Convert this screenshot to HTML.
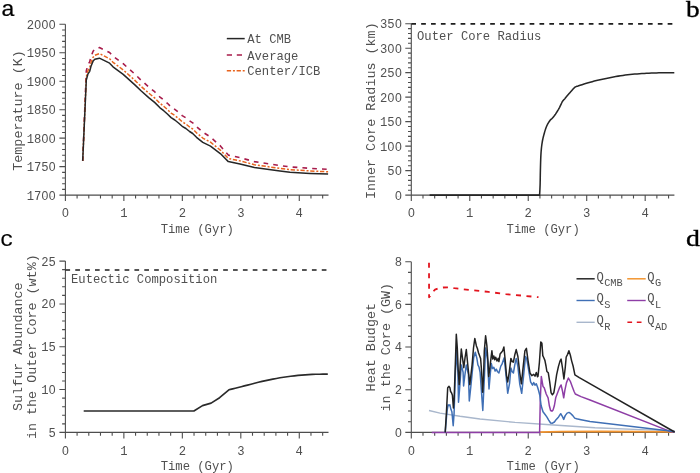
<!DOCTYPE html>
<html><head><meta charset="utf-8"><title>Core evolution</title>
<style>
html,body{margin:0;padding:0;background:#fff;}
svg{display:block;will-change:transform;}
text{font-family:"Liberation Mono", monospace;fill:#505050;}
</style></head><body>
<svg width="700" height="473" viewBox="0 0 700 473">
<rect width="700" height="473" fill="#fff"/>
<path d="M65.4 24.3V201.1M59.4 195.1H328.51M59.4 195.1H65.4M62.1 189.41H65.4M62.1 183.71H65.4M62.1 178.02H65.4M62.1 172.33H65.4M59.4 166.63H65.4M62.1 160.94H65.4M62.1 155.25H65.4M62.1 149.55H65.4M62.1 143.86H65.4M59.4 138.17H65.4M62.1 132.47H65.4M62.1 126.78H65.4M62.1 121.09H65.4M62.1 115.39H65.4M59.4 109.7H65.4M62.1 104.01H65.4M62.1 98.31H65.4M62.1 92.62H65.4M62.1 86.93H65.4M59.4 81.23H65.4M62.1 75.54H65.4M62.1 69.85H65.4M62.1 64.15H65.4M62.1 58.46H65.4M59.4 52.77H65.4M62.1 47.07H65.4M62.1 41.38H65.4M62.1 35.69H65.4M62.1 29.99H65.4M59.4 24.3H65.4M65.4 195.1V201.1M77.09 195.1V198.4M88.79 195.1V198.4M100.48 195.1V198.4M112.18 195.1V198.4M123.87 195.1V201.1M135.56 195.1V198.4M147.26 195.1V198.4M158.95 195.1V198.4M170.65 195.1V198.4M182.34 195.1V201.1M194.03 195.1V198.4M205.73 195.1V198.4M217.42 195.1V198.4M229.12 195.1V198.4M240.81 195.1V201.1M252.5 195.1V198.4M264.2 195.1V198.4M275.89 195.1V198.4M287.59 195.1V198.4M299.28 195.1V201.1M310.97 195.1V198.4M322.67 195.1V198.4" stroke="#4d4d4d" stroke-width="1.1" fill="none"/>
<text x="55.9" y="199.5" text-anchor="end" font-size="12.2">1700</text>
<text x="55.9" y="171.03" text-anchor="end" font-size="12.2">1750</text>
<text x="55.9" y="142.57" text-anchor="end" font-size="12.2">1800</text>
<text x="55.9" y="114.1" text-anchor="end" font-size="12.2">1850</text>
<text x="55.9" y="85.63" text-anchor="end" font-size="12.2">1900</text>
<text x="55.9" y="57.17" text-anchor="end" font-size="12.2">1950</text>
<text x="55.9" y="28.7" text-anchor="end" font-size="12.2">2000</text>
<text x="65.4" y="217.3" text-anchor="middle" font-size="12.2">0</text>
<text x="123.87" y="217.3" text-anchor="middle" font-size="12.2">1</text>
<text x="182.34" y="217.3" text-anchor="middle" font-size="12.2">2</text>
<text x="240.81" y="217.3" text-anchor="middle" font-size="12.2">3</text>
<text x="299.28" y="217.3" text-anchor="middle" font-size="12.2">4</text>
<text x="160.7" y="232.6" font-size="12.2">Time (Gyr)</text>
<text transform="translate(22.3 110.5) rotate(-90)" text-anchor="middle" font-size="13.4">Temperature (K)</text>
<path d="M82.7 160.9 L86.3 70.96 L88 64.56 L89.7 61.85 L91 56.59 L93.1 51.24 L94.8 49.23 L99.4 47.57 L104.5 50 L109.6 52.5 L113 56.1 L123.2 63.7 L134.6 73.9 L141 80.1 L148.7 86.9 L154.6 91.7 L160 97.1 L163.7 100 L167.4 103.3 L171.1 106.9 L174.8 109.3 L178.5 112.3 L182.2 115.6 L185.9 117.8 L189.6 120.8 L192.7 122.8 L196.5 126.6 L202.8 132.12 L210.5 137.06 L220.6 146.15 L228.3 155.1 L240 157.68 L254.4 161.61 L280 165.52 L290 166.89 L310 168.31 L328.1 169.3" stroke="#a81c4b" stroke-width="1.6" fill="none" stroke-linejoin="round" stroke-dasharray="4.7 5.1"/>
<path d="M82.7 160.9 L86.3 76.96 L88 70.56 L89.7 67.85 L91 62.59 L93.1 57.24 L94.8 55.23 L99.4 53.57 L104.5 56.2 L109.6 58.7 L113 62.3 L123.2 69.9 L134.6 80.1 L141 86.3 L148.7 93.1 L154.6 97.9 L160 103.3 L163.7 106.2 L167.4 109.5 L171.1 113.1 L174.8 115.5 L178.5 118.5 L182.2 121.8 L185.9 124 L189.6 127 L192.7 129 L196.5 132.8 L202.8 138.04 L210.5 142.21 L220.6 150.29 L228.3 158.47 L240 160.89 L254.4 164.71 L280 168.41 L290 169.69 L310 170.95 L328.1 171.8" stroke="#e8641e" stroke-width="1.5" fill="none" stroke-linejoin="round" stroke-dasharray="4.3 1.8 2 1.7"/>
<path d="M82.7 160.9 L86.3 80 L88 73.8 L89.7 71.3 L91 66.2 L93.1 61.1 L94.8 59.3 L99.4 58.2 L104.5 60.7 L109.6 63.2 L113 66.8 L123.2 74.4 L134.6 84.6 L141 90.8 L148.7 97.6 L154.6 102.4 L160 107.8 L163.7 110.7 L167.4 114 L171.1 117.6 L174.8 120 L178.5 123 L182.2 126.3 L185.9 128.5 L189.6 131.5 L192.7 133.5 L196.5 137.3 L202.8 142.4 L210.5 146.2 L220.6 153.8 L228.3 161.6 L240 163.9 L254.4 167.6 L280 171.1 L290 172.3 L310 173.4 L328.1 174.1" stroke="#262626" stroke-width="1.5" fill="none" stroke-linejoin="round" />
<path d="M226.8 38.6H244.7" stroke="#262626" stroke-width="1.5"/>
<path d="M226.8 55H244.7" stroke="#a81c4b" stroke-width="1.6" stroke-dasharray="5.2 4.8"/>
<path d="M226.8 70.8H244.7" stroke="#e8641e" stroke-width="1.5" stroke-dasharray="4.3 1.8 2 1.7"/>
<text x="247.2" y="43.1" font-size="12.2">At CMB</text>
<text x="247.2" y="59.5" font-size="12.2">Average</text>
<text x="247.2" y="75.3" font-size="12.2">Center/ICB</text>
<path d="M411.3 23.7V201.1M405.3 195.1H674.41M405.3 195.1H411.3M408 190.2H411.3M408 185.31H411.3M408 180.41H411.3M408 175.51H411.3M405.3 170.61H411.3M408 165.72H411.3M408 160.82H411.3M408 155.92H411.3M408 151.03H411.3M405.3 146.13H411.3M408 141.23H411.3M408 136.33H411.3M408 131.44H411.3M408 126.54H411.3M405.3 121.64H411.3M408 116.75H411.3M408 111.85H411.3M408 106.95H411.3M408 102.05H411.3M405.3 97.16H411.3M408 92.26H411.3M408 87.36H411.3M408 82.47H411.3M408 77.57H411.3M405.3 72.67H411.3M408 67.77H411.3M408 62.88H411.3M408 57.98H411.3M408 53.08H411.3M405.3 48.19H411.3M408 43.29H411.3M408 38.39H411.3M408 33.49H411.3M408 28.6H411.3M405.3 23.7H411.3M411.3 195.1V201.1M422.99 195.1V198.4M434.69 195.1V198.4M446.38 195.1V198.4M458.08 195.1V198.4M469.77 195.1V201.1M481.46 195.1V198.4M493.16 195.1V198.4M504.85 195.1V198.4M516.55 195.1V198.4M528.24 195.1V201.1M539.93 195.1V198.4M551.63 195.1V198.4M563.32 195.1V198.4M575.02 195.1V198.4M586.71 195.1V201.1M598.4 195.1V198.4M610.1 195.1V198.4M621.79 195.1V198.4M633.49 195.1V198.4M645.18 195.1V201.1M656.87 195.1V198.4M668.57 195.1V198.4" stroke="#4d4d4d" stroke-width="1.1" fill="none"/>
<text x="402" y="199.5" text-anchor="end" font-size="12.2">0</text>
<text x="402" y="175.01" text-anchor="end" font-size="12.2">50</text>
<text x="402" y="150.53" text-anchor="end" font-size="12.2">100</text>
<text x="402" y="126.04" text-anchor="end" font-size="12.2">150</text>
<text x="402" y="101.56" text-anchor="end" font-size="12.2">200</text>
<text x="402" y="77.07" text-anchor="end" font-size="12.2">250</text>
<text x="402" y="52.59" text-anchor="end" font-size="12.2">300</text>
<text x="402" y="28.1" text-anchor="end" font-size="12.2">350</text>
<text x="411.3" y="217.3" text-anchor="middle" font-size="12.2">0</text>
<text x="469.77" y="217.3" text-anchor="middle" font-size="12.2">1</text>
<text x="528.24" y="217.3" text-anchor="middle" font-size="12.2">2</text>
<text x="586.71" y="217.3" text-anchor="middle" font-size="12.2">3</text>
<text x="645.18" y="217.3" text-anchor="middle" font-size="12.2">4</text>
<text x="506.6" y="232.6" font-size="12.2">Time (Gyr)</text>
<text transform="translate(374.6 110.7) rotate(-90)" text-anchor="middle" font-size="13.4">Inner Core Radius (km)</text>
<path d="M411.3 23.9H674.41" stroke="#1e1e1e" stroke-width="1.6" stroke-dasharray="4.7 5.16"/>
<text x="417" y="40.4" font-size="12.2">Outer Core Radius</text>
<path d="M429.6 195.1 L539.6 195.1 L539.66 194.06 L539.74 192.66 L539.83 190.99 L539.93 189.1 L540.02 187.08 L540.1 185 L540.16 182.78 L540.21 180.36 L540.25 177.81 L540.29 175.18 L540.34 172.56 L540.4 170 L540.47 167.44 L540.54 164.81 L540.61 162.19 L540.7 159.63 L540.79 157.21 L540.9 155 L541.02 153.02 L541.15 151.22 L541.29 149.56 L541.44 148 L541.61 146.49 L541.8 145 L542 143.57 L542.2 142.26 L542.42 141 L542.67 139.74 L542.96 138.43 L543.3 137 L543.71 135.41 L544.17 133.68 L544.67 131.89 L545.21 130.13 L545.75 128.48 L546.3 127 L546.86 125.69 L547.46 124.49 L548.07 123.39 L548.67 122.4 L549.26 121.5 L549.8 120.7 L550.3 120.05 L550.76 119.56 L551.21 119.16 L551.64 118.81 L552.07 118.44 L552.5 118 L552.94 117.49 L553.38 116.96 L553.82 116.41 L554.25 115.85 L554.68 115.28 L555.1 114.7 L555.52 114.11 L555.93 113.5 L556.33 112.88 L556.73 112.25 L557.12 111.62 L557.5 111 L557.86 110.41 L558.19 109.85 L558.52 109.29 L558.85 108.7 L559.21 108.04 L559.6 107.3 L560.04 106.41 L560.52 105.39 L561.03 104.3 L561.53 103.23 L562.03 102.24 L562.5 101.4 L562.95 100.74 L563.38 100.2 L563.81 99.74 L564.22 99.33 L564.62 98.93 L565 98.5 L565.33 98.09 L565.61 97.73 L565.88 97.38 L566.17 97 L566.53 96.56 L567 96 L567.6 95.3 L568.32 94.47 L569.1 93.58 L569.9 92.67 L570.69 91.79 L571.4 91 L572.05 90.27 L572.68 89.55 L573.29 88.86 L573.87 88.23 L574.44 87.67 L575 87.2 L575.51 86.86 L575.96 86.63 L576.39 86.47 L576.85 86.34 L577.37 86.2 L578 86 L578.68 85.76 L579.39 85.53 L580.15 85.28 L581.03 85 L582.06 84.68 L583.3 84.3 L584.77 83.85 L586.42 83.34 L588.24 82.79 L590.18 82.22 L592.21 81.65 L594.3 81.1 L596.49 80.56 L598.82 80.01 L601.24 79.46 L603.71 78.91 L606.18 78.39 L608.6 77.9 L610.98 77.43 L613.37 76.98 L615.76 76.54 L618.14 76.13 L620.52 75.75 L622.9 75.4 L625.27 75.08 L627.64 74.8 L630 74.54 L632.36 74.31 L634.73 74.1 L637.1 73.9 L639.48 73.72 L641.86 73.57 L644.24 73.43 L646.63 73.31 L649.02 73.2 L651.4 73.1 L653.85 73.01 L656.38 72.92 L658.91 72.85 L661.36 72.79 L663.65 72.74 L665.7 72.7 L667.56 72.68 L669.31 72.67 L670.89 72.67 L672.28 72.69 L673.43 72.7 L674.3 72.7" stroke="#262626" stroke-width="1.55" fill="none" stroke-linejoin="round" />
<path d="M65.4 261.1V438.4M59.4 432.4H328.51M59.4 432.4H65.4M62.1 423.83H65.4M62.1 415.27H65.4M62.1 406.7H65.4M62.1 398.14H65.4M59.4 389.57H65.4M62.1 381.01H65.4M62.1 372.44H65.4M62.1 363.88H65.4M62.1 355.31H65.4M59.4 346.75H65.4M62.1 338.19H65.4M62.1 329.62H65.4M62.1 321.06H65.4M62.1 312.49H65.4M59.4 303.93H65.4M62.1 295.36H65.4M62.1 286.8H65.4M62.1 278.23H65.4M62.1 269.67H65.4M59.4 261.1H65.4M65.4 432.4V438.4M77.09 432.4V435.7M88.79 432.4V435.7M100.48 432.4V435.7M112.18 432.4V435.7M123.87 432.4V438.4M135.56 432.4V435.7M147.26 432.4V435.7M158.95 432.4V435.7M170.65 432.4V435.7M182.34 432.4V438.4M194.03 432.4V435.7M205.73 432.4V435.7M217.42 432.4V435.7M229.12 432.4V435.7M240.81 432.4V438.4M252.5 432.4V435.7M264.2 432.4V435.7M275.89 432.4V435.7M287.59 432.4V435.7M299.28 432.4V438.4M310.97 432.4V435.7M322.67 432.4V435.7" stroke="#4d4d4d" stroke-width="1.1" fill="none"/>
<text x="55.9" y="436.8" text-anchor="end" font-size="12.2">5</text>
<text x="55.9" y="393.97" text-anchor="end" font-size="12.2">10</text>
<text x="55.9" y="351.15" text-anchor="end" font-size="12.2">15</text>
<text x="55.9" y="308.32" text-anchor="end" font-size="12.2">20</text>
<text x="55.9" y="265.5" text-anchor="end" font-size="12.2">25</text>
<text x="65.4" y="454.6" text-anchor="middle" font-size="12.2">0</text>
<text x="123.87" y="454.6" text-anchor="middle" font-size="12.2">1</text>
<text x="182.34" y="454.6" text-anchor="middle" font-size="12.2">2</text>
<text x="240.81" y="454.6" text-anchor="middle" font-size="12.2">3</text>
<text x="299.28" y="454.6" text-anchor="middle" font-size="12.2">4</text>
<text x="160.7" y="469.9" font-size="12.2">Time (Gyr)</text>
<text transform="translate(21.5 346.7) rotate(-90)" text-anchor="middle" font-size="13.4">Sulfur Abundance</text>
<text transform="translate(36 346.7) rotate(-90)" text-anchor="middle" font-size="13.4">in the Outer Core (wt%)</text>
<path d="M65.4 270H328.51" stroke="#1e1e1e" stroke-width="1.7" stroke-dasharray="4.7 5.16"/>
<text x="71" y="283" font-size="12.2">Eutectic Composition</text>
<path d="M83.7 411 L193.9 411 L202.5 405.6 L211.1 403.1 L219.6 397.7 L228.9 389.8 L230.51 389.39 L232.67 388.84 L235.26 388.18 L238.15 387.45 L241.21 386.68 L244.3 385.9 L247.52 385.08 L250.99 384.19 L254.62 383.25 L258.34 382.31 L262.06 381.42 L265.7 380.6 L269.27 379.85 L272.83 379.13 L276.39 378.45 L279.96 377.81 L283.53 377.23 L287.1 376.7 L290.7 376.23 L294.34 375.81 L297.99 375.44 L301.6 375.11 L305.15 374.84 L308.6 374.6 L312.16 374.42 L315.88 374.3 L319.54 374.22 L322.91 374.17 L325.74 374.14 L327.8 374.1" stroke="#2a2a2a" stroke-width="1.65" fill="none" stroke-linejoin="round" />
<path d="M411.3 261.7V438.4M405.3 432.4H674.41M405.3 432.4H411.3M408 421.73H411.3M408 411.06H411.3M408 400.39H411.3M405.3 389.72H411.3M408 379.06H411.3M408 368.39H411.3M408 357.72H411.3M405.3 347.05H411.3M408 336.38H411.3M408 325.71H411.3M408 315.04H411.3M405.3 304.38H411.3M408 293.71H411.3M408 283.04H411.3M408 272.37H411.3M405.3 261.7H411.3M411.3 432.4V438.4M422.99 432.4V435.7M434.69 432.4V435.7M446.38 432.4V435.7M458.08 432.4V435.7M469.77 432.4V438.4M481.46 432.4V435.7M493.16 432.4V435.7M504.85 432.4V435.7M516.55 432.4V435.7M528.24 432.4V438.4M539.93 432.4V435.7M551.63 432.4V435.7M563.32 432.4V435.7M575.02 432.4V435.7M586.71 432.4V438.4M598.4 432.4V435.7M610.1 432.4V435.7M621.79 432.4V435.7M633.49 432.4V435.7M645.18 432.4V438.4M656.87 432.4V435.7M668.57 432.4V435.7" stroke="#4d4d4d" stroke-width="1.1" fill="none"/>
<text x="402" y="436.8" text-anchor="end" font-size="12.2">0</text>
<text x="402" y="394.12" text-anchor="end" font-size="12.2">2</text>
<text x="402" y="351.45" text-anchor="end" font-size="12.2">4</text>
<text x="402" y="308.77" text-anchor="end" font-size="12.2">6</text>
<text x="402" y="266.1" text-anchor="end" font-size="12.2">8</text>
<text x="411.3" y="454.6" text-anchor="middle" font-size="12.2">0</text>
<text x="469.77" y="454.6" text-anchor="middle" font-size="12.2">1</text>
<text x="528.24" y="454.6" text-anchor="middle" font-size="12.2">2</text>
<text x="586.71" y="454.6" text-anchor="middle" font-size="12.2">3</text>
<text x="645.18" y="454.6" text-anchor="middle" font-size="12.2">4</text>
<text x="506.6" y="469.9" font-size="12.2">Time (Gyr)</text>
<text transform="translate(375.4 347.2) rotate(-90)" text-anchor="middle" font-size="13.4">Heat Budget</text>
<text transform="translate(389.9 347.2) rotate(-90)" text-anchor="middle" font-size="13.4">in the Core (GW)</text>
<path d="M429 410.5 L440 413.1 L460 416.3 L480 419 L515 422.4 L550 424.8 L595 427.8 L640 429.6 L674.6 430.6" stroke="#a9b7cc" stroke-width="1.4" fill="none" stroke-linejoin="round" />
<path d="M539.3 432.2 L560 431.6 L600 431.5 L640 431.6 L674.6 431.8" stroke="#f39530" stroke-width="1.8" fill="none" stroke-linejoin="round" />
<path d="M431.8 432.4 L539.6 432.4 L540.3 400 L541.3 376.5 L543 386.4 L544.2 387.7 L546.2 394 L548.1 397.8 L549.3 405.5 L550.6 410.5 L551.9 411.2 L553.1 409.9 L554.4 405.5 L555.7 397.8 L557.6 392.8 L559.5 387.7 L561.1 385 L562.6 391.5 L563.7 397.8 L564.9 390.2 L566.5 382.6 L568.4 378 L570.3 381.3 L572.2 386.4 L574.1 391.5 L575.3 394 L581 396.6 L590 400 L670 431.4 L674.6 432" stroke="#8e3ea6" stroke-width="1.5" fill="none" stroke-linejoin="round" />
<path d="M445.2 432.4 L447.1 410.5 L448.1 404.8 L449 405.5 L449.9 404.8 L450.9 409.3 L451.9 411.8 L453.2 425.8 L454.1 413.1 L455.3 375 L456.3 350.6 L457.9 372.3 L458.5 402.3 L459.5 390 L461.3 364.9 L463.1 372.3 L463.6 386 L464.7 376.5 L466.3 364.9 L468.4 374.4 L469.3 401 L471 385 L473.7 357.5 L475.3 352.2 L476.9 358.5 L477.9 364.9 L479 367 L480.1 372.3 L482.8 410.5 L484.5 375 L485.6 348 L487.5 359.6 L489 389 L490.2 375 L491.3 363.5 L492.5 368.6 L493.8 367.3 L495.1 371.1 L496.3 369.2 L497.6 371.8 L498.9 373 L500.8 366.1 L502 364.2 L503.3 360.3 L504.2 357.8 L505.8 373 L507.7 393.3 L509.6 383.2 L510.9 368 L512.2 371.8 L513.4 373 L514.7 365.4 L516.2 358.4 L517.9 366.7 L519.8 384.4 L521.7 393.3 L523.6 375.6 L525.5 356.5 L526.8 359.1 L528.7 370.5 L530.6 381.9 L532.5 385.1 L533.7 382.5 L535 385.1 L536.3 383.8 L537.5 387 L538.5 390.2 L539.8 395.3 L541.1 405.5 L543 411.8 L544.9 414.3 L546.8 416.9 L548.7 420.1 L550.6 423 L552.5 423.2 L554.4 422 L556.3 419.4 L558.6 416.9 L560.7 413.7 L562.6 416.9 L563.7 419.4 L565.2 415.6 L567.1 413.1 L569 412.4 L570.9 413.7 L572.8 415.6 L574.7 418.1 L576.6 418.8 L581 419.7 L590 421.5 L672 431.3 L674.6 432" stroke="#3f6fb5" stroke-width="1.5" fill="none" stroke-linejoin="round" />
<path d="M445.2 432.4 L446.4 413.1 L447.7 387.7 L449 386.4 L449.9 387.7 L450.6 391.5 L451.5 392.8 L452.4 395.3 L453.4 408 L454.1 400 L455.3 365 L456.3 334.2 L457.3 348 L458.2 370 L459.2 384.6 L460.2 365 L461.3 349 L462.5 358 L463.8 367.7 L465 358 L466.3 349.6 L467.8 365 L469.8 384.6 L472.1 364.9 L473.5 348 L474.8 338.5 L476.4 345.9 L477.4 348.5 L478.5 352.7 L479.5 355.4 L480.6 358.5 L481.5 370 L482.7 392.3 L483.6 375 L484.3 351.1 L485.6 335.8 L486.9 345.9 L488 361.7 L488.7 376.5 L489.6 370 L491.2 356.4 L491.9 350.8 L492.8 359.1 L493.8 355.9 L494.8 359.7 L495.7 357.2 L497 361 L498.2 358.4 L498.9 361.6 L500.1 354 L501.7 352.1 L502.7 350.8 L503.9 347 L505.2 360.3 L506.5 375.6 L507.7 381.9 L509.3 371.8 L510.9 358.4 L512.2 361.6 L513.4 362.2 L514.7 355.3 L516.2 349.6 L517.9 356.5 L519.8 373 L521.4 383.8 L523.2 366.7 L524.9 350.8 L526.4 348.3 L528 360.3 L530 373 L531.8 375.6 L533.7 374.3 L535 376.2 L536.3 372.4 L537.5 376.8 L538 376.3 L539.4 362.5 L540.8 341.9 L541.9 343.3 L542.8 355.6 L543.8 357.7 L544.9 360.4 L546 366 L546.9 371.5 L548.3 372.8 L549.7 381.8 L551.1 392.8 L552.4 394.8 L553.8 392.8 L555.2 384.5 L556.6 374.9 L558.4 366.6 L560 361.1 L561.1 359.1 L562.5 368 L563.9 379 L565.2 368 L566.2 357 L567.6 354.3 L568.9 350.8 L570.3 355 L571.7 361.1 L573.1 366 L574.9 374.9 L579.3 377.6 L674.6 432" stroke="#222222" stroke-width="1.5" fill="none" stroke-linejoin="round" />
<path d="M429 262.8 L429.1 297.3 L432 293 L435 289.6 L439 288 L443 287.5 L449 287.4 L454.3 288.2 L471.5 290.2 L488.6 291.9 L505.8 294.1 L522.9 295.7 L538.5 297.2" stroke="#e2141e" stroke-width="1.8" fill="none" stroke-linejoin="round" stroke-dasharray="5 5.5"/>
<path d="M576.5 278.8H594.7" stroke="#262626" stroke-width="1.5"/>
<path d="M576.5 300.5H594.7" stroke="#3f6fb5" stroke-width="1.4"/>
<path d="M576.5 322.3H594.7" stroke="#a9b7cc" stroke-width="1.4"/>
<path d="M627.2 278.8H645.7" stroke="#f39530" stroke-width="1.5"/>
<path d="M627.2 300.5H645.7" stroke="#8e3ea6" stroke-width="1.4"/>
<path d="M627.4 322.3H645.7" stroke="#e2141e" stroke-width="1.6" stroke-dasharray="4.7 4.7"/>
<text x="596.6" y="280.7" font-size="12.2">Q</text><text x="604.2" y="286.3" font-size="10.3">CMB</text>
<text x="647.3" y="280.7" font-size="12.2">Q</text><text x="654.9" y="286.3" font-size="10.3">G</text>
<text x="596.6" y="302.4" font-size="12.2">Q</text><text x="604.2" y="308" font-size="10.3">S</text>
<text x="647.3" y="302.4" font-size="12.2">Q</text><text x="654.9" y="308" font-size="10.3">L</text>
<text x="596.6" y="324.2" font-size="12.2">Q</text><text x="604.2" y="329.8" font-size="10.3">R</text>
<text x="647.3" y="324.2" font-size="12.2">Q</text><text x="654.9" y="329.8" font-size="10.3">AD</text>
<ellipse cx="44.91" cy="195.45" rx="1.25" ry="1.4" fill="#fff"/>
<ellipse cx="52.23" cy="195.45" rx="1.25" ry="1.4" fill="#fff"/>
<ellipse cx="52.23" cy="166.99" rx="1.25" ry="1.4" fill="#fff"/>
<ellipse cx="44.91" cy="138.52" rx="1.25" ry="1.4" fill="#fff"/>
<ellipse cx="52.23" cy="138.52" rx="1.25" ry="1.4" fill="#fff"/>
<ellipse cx="52.23" cy="110.05" rx="1.25" ry="1.4" fill="#fff"/>
<ellipse cx="44.91" cy="81.59" rx="1.25" ry="1.4" fill="#fff"/>
<ellipse cx="52.23" cy="81.59" rx="1.25" ry="1.4" fill="#fff"/>
<ellipse cx="52.23" cy="53.12" rx="1.25" ry="1.4" fill="#fff"/>
<ellipse cx="37.59" cy="24.65" rx="1.25" ry="1.4" fill="#fff"/>
<ellipse cx="44.91" cy="24.65" rx="1.25" ry="1.4" fill="#fff"/>
<ellipse cx="52.23" cy="24.65" rx="1.25" ry="1.4" fill="#fff"/>
<ellipse cx="65.39" cy="213.25" rx="1.25" ry="1.4" fill="#fff"/>
<ellipse cx="398.33" cy="195.45" rx="1.25" ry="1.4" fill="#fff"/>
<ellipse cx="398.33" cy="170.97" rx="1.25" ry="1.4" fill="#fff"/>
<ellipse cx="391.01" cy="146.48" rx="1.25" ry="1.4" fill="#fff"/>
<ellipse cx="398.33" cy="146.48" rx="1.25" ry="1.4" fill="#fff"/>
<ellipse cx="398.33" cy="121.99" rx="1.25" ry="1.4" fill="#fff"/>
<ellipse cx="391.01" cy="97.51" rx="1.25" ry="1.4" fill="#fff"/>
<ellipse cx="398.33" cy="97.51" rx="1.25" ry="1.4" fill="#fff"/>
<ellipse cx="398.33" cy="73.02" rx="1.25" ry="1.4" fill="#fff"/>
<ellipse cx="391.01" cy="48.54" rx="1.25" ry="1.4" fill="#fff"/>
<ellipse cx="398.33" cy="48.54" rx="1.25" ry="1.4" fill="#fff"/>
<ellipse cx="398.33" cy="24.05" rx="1.25" ry="1.4" fill="#fff"/>
<ellipse cx="411.29" cy="213.25" rx="1.25" ry="1.4" fill="#fff"/>
<ellipse cx="52.23" cy="389.93" rx="1.25" ry="1.4" fill="#fff"/>
<ellipse cx="52.23" cy="304.28" rx="1.25" ry="1.4" fill="#fff"/>
<ellipse cx="65.39" cy="450.55" rx="1.25" ry="1.4" fill="#fff"/>
<ellipse cx="398.33" cy="432.75" rx="1.25" ry="1.4" fill="#fff"/>
<ellipse cx="411.29" cy="450.55" rx="1.25" ry="1.4" fill="#fff"/>
<text transform="translate(0.9 15.8) scale(1.09 1)" font-size="21.5" style="fill:#000" stroke="#000" stroke-width="0.2">a</text>
<text transform="translate(686 16.6) scale(1.16 1)" style="font-family:&quot;Liberation Serif&quot;,serif;fill:#000" font-size="23.5" stroke="#000" stroke-width="0.35">b</text>
<text x="0" y="246.4" font-size="22.8" style="fill:#000" stroke="#000" stroke-width="0.15">c</text>
<text transform="translate(686 246.3) scale(1.16 1)" style="font-family:&quot;Liberation Serif&quot;,serif;fill:#000" font-size="24" stroke="#000" stroke-width="0.35">d</text>
</svg>
</body></html>
